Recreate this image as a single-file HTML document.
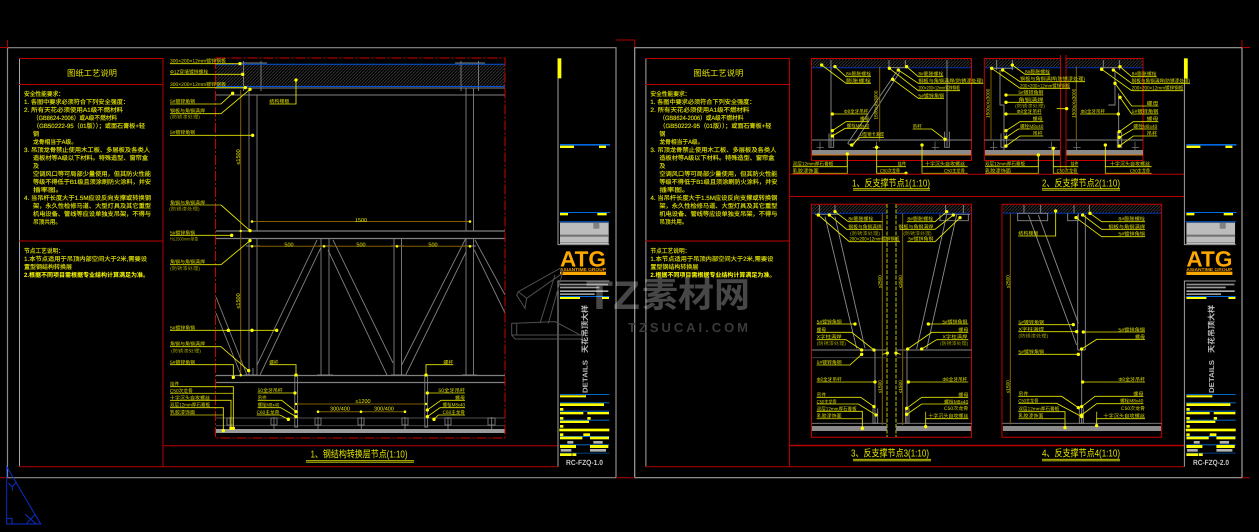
<!DOCTYPE html>
<html><head><meta charset="utf-8"><style>
html,body{margin:0;padding:0;background:#000;width:1259px;height:532px;overflow:hidden}
svg{display:block}
text{font-family:"Liberation Sans","Noto Sans CJK SC",sans-serif}
.t{fill:#d8d800;font-size:15px}
.d{fill:#a0a000;font-size:14px}
.n{fill:#e4e400;font-size:6.2px;stroke:#e4e400;stroke-width:.12}
.b{fill:#ffff00;font-size:6.2px;font-weight:bold}
.h{fill:#e0e000;font-size:8.3px}
.ti{fill:#e0e000;font-size:10px}
.dm{fill:#e8e800;font-size:14px}
.l{fill:none;stroke:#e8e800;stroke-width:2.6;marker-end:url(#m)}
.o{fill:none;stroke:#c4c400;stroke-width:2.6}
.g{fill:none;stroke:#808080;stroke-width:.9}
.gz{fill:none;stroke:#888;stroke-width:2.8}
.br{fill:none;stroke:#806000;stroke-width:1}
.brz{fill:none;stroke:#806000;stroke-width:3}
.red{fill:none;stroke:#b80000;stroke-width:1}
.dr{fill:none;stroke:#d00000;stroke-width:1;stroke-dasharray:10 2 2 2}
.rs{fill:none;stroke:#c80000;stroke-width:1}
.bl{stroke:#0050e0;stroke-width:1;fill:none}
.w{fill:none;stroke:#a8a8a8;stroke-width:1}
.wm{fill:none;stroke:#4e4e4e;stroke-width:3}
</style></head><body>
<svg width="1259" height="532" viewBox="0 0 1259 532" xmlns="http://www.w3.org/2000/svg" text-rendering="geometricPrecision">
<defs>
<marker id="m" markerUnits="userSpaceOnUse" markerWidth="14" markerHeight="14" refX="7" refY="7"><circle cx="7" cy="7" r="5" fill="#ffff00"/></marker>
<pattern id="hz" patternUnits="userSpaceOnUse" width="3.2" height="3.2"><path d="M0 3.2L3.2 0" stroke="#4a4a4a" stroke-width=".7"/></pattern>
<g id="sheet">
<path class="w" d="M19.5 58V467"/>
<path class="red" d="M19 58.5H163M19 84.5H163M163 58V467M19 241H163M163 445.7H558"/>
<path d="M19 466.7H558" stroke="#a00000" stroke-width="1.2"/>
<g transform="translate(500,40) scale(.33333)">
<path d="M174 55V614H328M174 1280V723H328" fill="none" stroke="#a0a0a0" stroke-width="3"/>
<rect x="173" y="55" width="11" height="60" fill="#ffff00"/>
<rect x="180" y="312" width="150" height="5" fill="#0068e0"/>
<rect x="180" y="317" width="42" height="7" fill="#ffff00"/><rect x="297" y="317" width="21" height="7" fill="#ffff00"/>
<rect x="180" y="516" width="150" height="3" fill="#0068e0"/>
<rect x="180" y="519" width="24" height="7" fill="#ffff00"/><rect x="292" y="519" width="28" height="7" fill="#ffff00"/>
<rect x="178" y="544" width="150" height="3" fill="#0068e0"/>
<rect x="180" y="548" width="146" height="60" fill="#bcbcbc"/>
<rect x="180" y="584" width="146" height="6" fill="#707070"/>
<rect x="280" y="548" width="18" height="18" fill="#808080"/>
<path d="M180 610H326" stroke="#dcdcdc" stroke-width="3"/>
<rect x="180" y="695" width="138" height="10" fill="#ffa800"/>
<rect x="180" y="731" width="144" height="5" fill="#909090"/><rect x="180" y="740" width="118" height="5" fill="#9c9c9c"/>
<rect x="180" y="751" width="145" height="5" fill="#a8a8a8"/><rect x="180" y="760" width="104" height="5" fill="#9c9c9c"/>
<rect x="180" y="768" width="148" height="3" fill="#0068e0"/>
<rect x="180" y="771" width="60" height="6" fill="#ffff00"/><rect x="306" y="771" width="21" height="6" fill="#ffff00"/>
</g>
<g transform="translate(550,380) scale(.33333)">
<g fill="#0068c8">
<rect x="30" y="42" width="148" height="3"/><rect x="30" y="67" width="148" height="3"/><rect x="30" y="92" width="148" height="3"/><rect x="30" y="119" width="148" height="3"/><rect x="30" y="168" width="148" height="3"/><rect x="30" y="193" width="148" height="3"/><rect x="30" y="218" width="148" height="3" fill="#004080"/>
</g>
<g fill="#ffff00">
<rect x="30" y="46" width="78" height="6"/><rect x="30" y="70" width="132" height="8"/><rect x="30" y="84" width="10" height="8"/><rect x="30" y="96" width="70" height="7"/><rect x="112" y="96" width="65" height="7"/><rect x="30" y="111" width="10" height="8"/><rect x="112" y="111" width="10" height="8"/><rect x="30" y="122" width="87" height="7"/><rect x="30" y="135" width="10" height="8"/><rect x="28" y="146" width="150" height="8"/><rect x="30" y="160" width="10" height="8"/><rect x="100" y="160" width="20" height="8"/><rect x="30" y="170" width="67" height="8"/><rect x="120" y="170" width="57" height="8"/><rect x="30" y="195" width="48" height="9"/><rect x="120" y="195" width="55" height="9"/><rect x="30" y="220" width="35" height="8"/><rect x="67" y="220" width="12" height="8"/>
</g>
<g fill="#b0b0b0"><rect x="52" y="183" width="18" height="8"/><rect x="130" y="183" width="28" height="8"/><rect x="32" y="207" width="32" height="8"/><rect x="120" y="207" width="48" height="8"/></g>
</g>
</g>
</defs>

<!-- outer frames -->
<path d="M7.5 47.7H616V477.7H7.5Z" fill="none" stroke="#8c8c8c" stroke-width="1.2"/>
<path d="M634.7 47.7H1242V477.7H634.7Z" fill="none" stroke="#a0a0a0" stroke-width="1.2"/>
<path d="M616 40H634.7V47M0 47.5H7.5V40M1242 47.5H1250M1242 40V47M616 477.7H634.7M0 477.7H7.5M1242 477.7H1250" fill="none" stroke="#b00000" stroke-width="1"/>

<use href="#sheet"/>
<use href="#sheet" x="626.4"/>

<!-- notes left -->
<text class="h" x="67" y="76" textLength="50" lengthAdjust="spacingAndGlyphs">图纸工艺说明</text>
<g>
<text class="n" x="24" y="96" textLength="40" lengthAdjust="spacingAndGlyphs">安全性能要求：</text>
<text class="n" x="24" y="104" textLength="105" lengthAdjust="spacingAndGlyphs">1.  各图中要求必须符合下列安全强度：</text>
<text class="n" x="24" y="112" textLength="99" lengthAdjust="spacingAndGlyphs">2.   所有天花必须使用A1级不燃材料</text>
<text class="n" x="33" y="120" textLength="84" lengthAdjust="spacingAndGlyphs">（GB8624-2006）或A级不燃材料</text>
<text class="n" x="33" y="128" textLength="112" lengthAdjust="spacingAndGlyphs">（GB50222-95（01版））；或面石膏板+轻</text>
<text class="n" x="33" y="136" textLength="6" lengthAdjust="spacingAndGlyphs">钢</text>
<text class="n" x="33" y="144" textLength="44" lengthAdjust="spacingAndGlyphs">龙骨相当于A级。</text>
<text class="n" x="24" y="152" textLength="126" lengthAdjust="spacingAndGlyphs">3. 吊顶龙骨禁止使用木工板、多层板及各类人</text>
<text class="n" x="33" y="160" textLength="115" lengthAdjust="spacingAndGlyphs">造板材等A级以下材料。特殊造型、窗帘盒</text>
<text class="n" x="33" y="168" textLength="6" lengthAdjust="spacingAndGlyphs">及</text>
<text class="n" x="33" y="176" textLength="118" lengthAdjust="spacingAndGlyphs">空调风口等可局部少量使用，但其防火性能</text>
<text class="n" x="33" y="184" textLength="118" lengthAdjust="spacingAndGlyphs">等级不得低于B1级且须涂刷防火涂料，并安</text>
<text class="n" x="33" y="192" textLength="30" lengthAdjust="spacingAndGlyphs">插率图。</text>
<text class="n" x="24" y="200" textLength="127" lengthAdjust="spacingAndGlyphs">4. 当吊杆长度大于1.5M应设反向支撑或转换钢</text>
<text class="n" x="33" y="208" textLength="118" lengthAdjust="spacingAndGlyphs">架，永久性检修马道、大型灯具及其它重型</text>
<text class="n" x="33" y="216" textLength="118" lengthAdjust="spacingAndGlyphs">机电设备、管线等应设单独支吊架，不得与</text>
<text class="n" x="33" y="224" textLength="28" lengthAdjust="spacingAndGlyphs">吊顶共用。</text>
<text class="n" x="24" y="253" textLength="40" lengthAdjust="spacingAndGlyphs">节点工艺说明：</text>
<text class="n" x="24" y="261" textLength="123" lengthAdjust="spacingAndGlyphs">1.本节点适用于吊顶内部空间大于2米,需要设</text>
<text class="n" x="24" y="269" textLength="48" lengthAdjust="spacingAndGlyphs">置型钢结构转换层</text>
<text class="b" x="24" y="277" textLength="125" lengthAdjust="spacingAndGlyphs">2.根据不同项目需根据专业结构计算满足为准。</text>
</g>
<!-- notes right -->
<text class="h" x="693.4" y="76" textLength="50" lengthAdjust="spacingAndGlyphs">图纸工艺说明</text>
<g>
<text class="n" x="650.4" y="96" textLength="40" lengthAdjust="spacingAndGlyphs">安全性能要求：</text>
<text class="n" x="650.4" y="104" textLength="105" lengthAdjust="spacingAndGlyphs">1.  各图中要求必须符合下列安全强度：</text>
<text class="n" x="650.4" y="112" textLength="99" lengthAdjust="spacingAndGlyphs">2.   所有天花必须使用A1级不燃材料</text>
<text class="n" x="659.4" y="120" textLength="84" lengthAdjust="spacingAndGlyphs">（GB8624-2006）或A级不燃材料</text>
<text class="n" x="659.4" y="128" textLength="112" lengthAdjust="spacingAndGlyphs">（GB50222-95（01版））；或面石膏板+轻</text>
<text class="n" x="659.4" y="136" textLength="6" lengthAdjust="spacingAndGlyphs">钢</text>
<text class="n" x="659.4" y="144" textLength="44" lengthAdjust="spacingAndGlyphs">龙骨相当于A级。</text>
<text class="n" x="650.4" y="152" textLength="126" lengthAdjust="spacingAndGlyphs">3. 吊顶龙骨禁止使用木工板、多层板及各类人</text>
<text class="n" x="659.4" y="160" textLength="115" lengthAdjust="spacingAndGlyphs">造板材等A级以下材料。特殊造型、窗帘盒</text>
<text class="n" x="659.4" y="168" textLength="6" lengthAdjust="spacingAndGlyphs">及</text>
<text class="n" x="659.4" y="176" textLength="118" lengthAdjust="spacingAndGlyphs">空调风口等可局部少量使用，但其防火性能</text>
<text class="n" x="659.4" y="184" textLength="118" lengthAdjust="spacingAndGlyphs">等级不得低于B1级且须涂刷防火涂料，并安</text>
<text class="n" x="659.4" y="192" textLength="30" lengthAdjust="spacingAndGlyphs">插率图。</text>
<text class="n" x="650.4" y="200" textLength="127" lengthAdjust="spacingAndGlyphs">4. 当吊杆长度大于1.5M应设反向支撑或转换钢</text>
<text class="n" x="659.4" y="208" textLength="118" lengthAdjust="spacingAndGlyphs">架，永久性检修马道、大型灯具及其它重型</text>
<text class="n" x="659.4" y="216" textLength="118" lengthAdjust="spacingAndGlyphs">机电设备、管线等应设单独支吊架，不得与</text>
<text class="n" x="659.4" y="224" textLength="28" lengthAdjust="spacingAndGlyphs">吊顶共用。</text>
<text class="n" x="650.4" y="253" textLength="40" lengthAdjust="spacingAndGlyphs">节点工艺说明：</text>
<text class="n" x="650.4" y="261" textLength="123" lengthAdjust="spacingAndGlyphs">1.本节点适用于吊顶内部空间大于2米,需要设</text>
<text class="n" x="650.4" y="269" textLength="48" lengthAdjust="spacingAndGlyphs">置型钢结构转换层</text>
<text class="b" x="650.4" y="277" textLength="125" lengthAdjust="spacingAndGlyphs">2.根据不同项目需根据专业结构计算满足为准。</text>
</g>

<!-- Title block text -->
<g font-weight="bold">
<text x="560" y="266.7" font-size="22" fill="#ffa800" textLength="46" lengthAdjust="spacingAndGlyphs">ATG</text>
<text x="560" y="270.9" font-size="4.2" fill="#ffa800" textLength="46" lengthAdjust="spacingAndGlyphs">ASIANTIME GROUP</text>
<text x="1186.4" y="266.7" font-size="22" fill="#ffa800" textLength="46" lengthAdjust="spacingAndGlyphs">ATG</text>
<text x="1186.4" y="270.9" font-size="4.2" fill="#ffa800" textLength="46" lengthAdjust="spacingAndGlyphs">ASIANTIME GROUP</text>
<text x="566" y="465" font-size="7.5" fill="#c8c8c8" textLength="37" lengthAdjust="spacingAndGlyphs">RC-FZQ-1.0</text>
<text x="1193" y="465" font-size="7.5" fill="#c8c8c8" textLength="36" lengthAdjust="spacingAndGlyphs">RC-FZQ-2.0</text>
<text transform="translate(587.5,393) rotate(-90)" font-size="7" fill="#bdbdbd" textLength="33" lengthAdjust="spacingAndGlyphs">DETAILS</text>
<text transform="translate(587.5,353) rotate(-90)" font-size="7.5" fill="#bdbdbd" textLength="48" lengthAdjust="spacingAndGlyphs">天花吊顶大样</text>
<text transform="translate(1213.9,393) rotate(-90)" font-size="7" fill="#bdbdbd" textLength="33" lengthAdjust="spacingAndGlyphs">DETAILS</text>
<text transform="translate(1213.9,353) rotate(-90)" font-size="7.5" fill="#bdbdbd" textLength="48" lengthAdjust="spacingAndGlyphs">天花吊顶大样</text>
</g>

<!-- ===== DRAWING 1 structure ===== -->
<rect x="216" y="64.5" width="289" height="22" fill="url(#hz)"/>
<g class="g">
<path d="M216 88H505M216 95H505" />
<path d="M240 63H267M240 88H267M455 63H485M455 88H485M243.5 61V91M261 61V91M461 61V91M478.5 61V91" />
<path d="M249 88V231M257 95V231M466 88V231M473.5 88V231M245 231H260M462 231H476" />
<path d="M216 231H505M216 238.5H505" stroke-width="1.2"/>
<path d="M249 238V375M257 238V375M321 238V375M329 238V375M394 238V375M401.5 238V375M466 238V375M473.5 238V375"/>
<path d="M318 246H332M391 246H404M463 246H476M246 246H260"/>
<path d="M216 297L247 375M216 313L241 375M256.7 365.7L317 240M260 375L320.7 248M333 240L393 363M328 250L387 375M401.7 365L466 238M405.7 375L466 252M475 240L505 295M474.3 250L505 313"/>
<path d="M253 368V375M317 375H333M391 375H405M462 375H477M244 375H258"/>
<path d="M216 375.5H505M216 382.5H505" stroke-width="1.2"/>
<path d="M216 418H505M216 425.7H505" stroke="#505050"/>
<path d="M294.8 375V427H297.6V375M424.8 375V427H427.6V375" fill="none"/>
</g>
<rect x="216" y="429" width="289" height="4" fill="#9a9a9a"/>
<path class="bl" d="M216 64.3H505M216 86.5H505" stroke-width="1.2"/>
<path class="dr" d="M215.5 58H505V438H215.5Z"/>
<g fill="none" stroke="#8a8a8a" stroke-width=".8">
<path d="M274 429V417M271 418H277V425H271ZM318 429V417M315 418H321V425H315ZM361.3 429V417M358 418H364V425H358ZM405 429V417M402 418H408V425H402ZM448 429V417M445 418H451V425H445ZM491.7 429V417M488 418H495V425H488ZM230 429V417M227 418H233V425H227Z"/>
</g>
<!-- dims -->
<g>
<path class="br" d="M240.7 90V377M252 221.5H470M252 246.3H470M296 404H426M318 411.7H405" stroke-width="1"/>
</g>
<g fill="#ffff00"><circle cx="252" cy="221.5" r="1.3"/><circle cx="470" cy="221.5" r="1.3"/><circle cx="252" cy="246.3" r="1.3"/><circle cx="324" cy="246.3" r="1.3"/><circle cx="397" cy="246.3" r="1.3"/><circle cx="470" cy="246.3" r="1.3"/><circle cx="240.7" cy="231" r="1.2"/><circle cx="240.7" cy="375" r="1.2"/><circle cx="296" cy="404" r="1.2"/><circle cx="426" cy="404" r="1.2"/><circle cx="318" cy="411.7" r="1.3"/><circle cx="361" cy="411.7" r="1.3"/><circle cx="405" cy="411.7" r="1.3"/></g>
<g fill="#e4e400" style="font-size:5.5px">
<text x="361" y="222" text-anchor="middle">1500</text><text x="289" y="246.5" text-anchor="middle">500</text><text x="361" y="246.5" text-anchor="middle">500</text><text x="433" y="246.5" text-anchor="middle">500</text>
<text x="363" y="403" text-anchor="middle">≤1200</text><text x="340" y="410.5" text-anchor="middle">300/400</text><text x="384" y="410.5" text-anchor="middle">300/400</text>
<text transform="translate(240,157) rotate(-90)" text-anchor="middle">≤1500</text>
<text transform="translate(240,301) rotate(-90)" text-anchor="middle">≤1500</text>
</g>

<g transform="translate(160,50) scale(.33333)">
<path class="l" d="M30 41H240"/><path class="l" d="M30 73H248"/><path class="l" d="M30 113H256"/>
<path class="l" d="M30 162H183L218 130"/><path class="l" d="M30 191H183L270 118"/><path class="l" d="M30 256H278"/>
<path class="l" d="M328 162H408V90"/>
<path class="o" d="M30 465H183"/><path class="l" d="M183 465L270 542"/><path class="l" d="M30 556H215"/>
<text class="t" x="30" y="38" textLength="168" lengthAdjust="spacingAndGlyphs">300×200×12mm镀锌钢板</text>
<text class="t" x="30" y="70" textLength="115" lengthAdjust="spacingAndGlyphs">Φ12穿墙镀锌螺栓</text>
<text class="t" x="30" y="108" textLength="168" lengthAdjust="spacingAndGlyphs">300×200×12mm镀锌钢板</text>
<text class="t" x="30" y="159" textLength="75" lengthAdjust="spacingAndGlyphs">5#镀锌角钢</text>
<text class="t" x="30" y="188" textLength="105" lengthAdjust="spacingAndGlyphs">钢板与角钢满焊</text>
<text class="d" x="30" y="206" textLength="90" lengthAdjust="spacingAndGlyphs">(防锈漆处理)</text>
<text class="t" x="30" y="252" textLength="75" lengthAdjust="spacingAndGlyphs">5#镀锌角钢</text>
<text class="t" x="328" y="159" textLength="60" lengthAdjust="spacingAndGlyphs">结构楼板</text>
<text class="t" x="30" y="463" textLength="105" lengthAdjust="spacingAndGlyphs">角钢与角钢满焊</text>
<text class="d" x="27" y="482" textLength="92" lengthAdjust="spacingAndGlyphs">(防锈漆处理)</text>
<text class="t" x="30" y="553" textLength="75" lengthAdjust="spacingAndGlyphs">5#镀锌角钢</text>
<text class="d" x="30" y="571" textLength="85" lengthAdjust="spacingAndGlyphs">H≤1500mm渐变</text>
</g>
<g transform="translate(160,240) scale(.33333)">
<path class="l" d="M30 74H183L270 2"/>
<path class="l" d="M30 271H350"/><path class="l" d="M204 271H205"/><path class="l" d="M275 271H276"/>
<path class="l" d="M30 320H183L266 392"/><path class="l" d="M30 374H220V412"/>
<path class="l" d="M30 440H220V565"/><path class="o" d="M30 460H220"/><path class="l" d="M30 481H213V565"/><path class="l" d="M30 503H190V572"/><path class="o" d="M30 525H190"/>
<path class="l" d="M328 374H408V405"/><path class="l" d="M880 374H798V405"/>
<path class="l" d="M293 459H405"/><path class="l" d="M293 481H365L408 515"/><path class="l" d="M293 503H362L408 530"/><path class="l" d="M290 525H360L385 538"/>
<path class="l" d="M915 459H802"/><path class="l" d="M915 481H843L802 510"/><path class="l" d="M915 503H840L802 530"/><path class="l" d="M915 525H835L822 538"/>
<text class="t" x="30" y="71" textLength="105" lengthAdjust="spacingAndGlyphs">角钢与角钢满焊</text>
<text class="d" x="30" y="90" textLength="90" lengthAdjust="spacingAndGlyphs">(防锈漆处理)</text>
<text class="t" x="30" y="268" textLength="75" lengthAdjust="spacingAndGlyphs">5#镀锌角钢</text>
<text class="t" x="30" y="317" textLength="105" lengthAdjust="spacingAndGlyphs">角钢与角钢满焊</text>
<text class="d" x="33" y="338" textLength="90" lengthAdjust="spacingAndGlyphs">(防锈漆处理)</text>
<text class="t" x="30" y="372" textLength="75" lengthAdjust="spacingAndGlyphs">5#镀锌角钢</text>
<text class="t" x="30" y="437" textLength="27" lengthAdjust="spacingAndGlyphs">挂件</text>
<text class="t" x="30" y="457" textLength="68" lengthAdjust="spacingAndGlyphs">C50次龙骨</text>
<text class="t" x="30" y="478" textLength="120" lengthAdjust="spacingAndGlyphs">十字沉头自攻螺丝</text>
<text class="t" x="30" y="500" textLength="120" lengthAdjust="spacingAndGlyphs">双层12mm厚石膏板</text>
<text class="t" x="30" y="522" textLength="75" lengthAdjust="spacingAndGlyphs">乳胶漆饰面</text>
<text class="t" x="328" y="372" textLength="27" lengthAdjust="spacingAndGlyphs">螺杆</text>
<text class="t" x="850" y="372" textLength="30" lengthAdjust="spacingAndGlyphs">螺杆</text>
<text class="t" x="293" y="456" textLength="75" lengthAdjust="spacingAndGlyphs">50全牙吊杆</text>
<text class="t" x="293" y="478" textLength="27" lengthAdjust="spacingAndGlyphs">吊件</text>
<text class="t" x="293" y="500" textLength="65" lengthAdjust="spacingAndGlyphs">螺栓M8x40</text>
<text class="t" x="290" y="522" textLength="68" lengthAdjust="spacingAndGlyphs">C60主龙骨</text>
<text class="t" x="835" y="456" textLength="80" lengthAdjust="spacingAndGlyphs">50全牙吊杆</text>
<text class="t" x="885" y="478" textLength="30" lengthAdjust="spacingAndGlyphs">螺母</text>
<text class="t" x="848" y="500" textLength="67" lengthAdjust="spacingAndGlyphs">螺栓M8x40</text>
<text class="t" x="848" y="522" textLength="67" lengthAdjust="spacingAndGlyphs">C60主龙骨</text>
</g>
<text class="ti" x="310.5" y="457.5" textLength="97" lengthAdjust="spacingAndGlyphs">1、钢结构转换层节点(1:10)</text>
<path d="M306 460.7H414M306 462.2H414" stroke="#d8d800" stroke-width=".8"/>

<!-- ===== NODES 1,2 ===== -->
<path class="rs" d="M811.5 58.5H971.5V160.5H811.5ZM984.3 58.5H1143V160.5H984.3Z"/>
<rect x="812" y="59" width="159" height="8.5" fill="url(#hz)"/><rect x="985" y="59" width="158" height="8.5" fill="url(#hz)"/>
<path d="M812 67.7H971M985 67.7H1143" stroke="#0030b0" stroke-width="1"/>
<rect x="812" y="150" width="159" height="4.5" fill="#8a8a8a"/><rect x="985" y="150" width="158" height="4.5" fill="#8a8a8a"/>
<path d="M812 155H971M985 155H1143" stroke="#e07000" stroke-width="1"/>
<rect x="1061" y="55" width="4.5" height="108" fill="#000"/>
<path d="M1060.5 55V169M1066 55V169" stroke="#c00000" stroke-width="1"/>
<g transform="translate(800,50) scale(.33333)">
<g class="gz">
<path d="M36 270H515M553 270H780M800 270H1029"/>
<path d="M93 30V290M441 30V290M87 250V292H101V250M434 245V292H448V245"/>
<path d="M267 30V55M316 30V55M265 53H320"/>
<path d="M290 65L143 280M300 65L160 285M143 280L160 290"/>
<path d="M590 30V60M637 30V60M572 55H640M600 60V165H612V300M612 165V290M603 250V292H620V250"/>
<path d="M910 30V55M958 30V60M900 53H960M945 60V165H925M956 130V290M952 245V292H965V245"/>
<path d="M60 275V300M405 275V300M230 275V300M405 275V300M580 275V300M755 275V300M830 275V300M1005 275V300" stroke-width="2"/>
<path d="M50 292H72M218 292H240M395 292H418M570 292H592M745 292H770M820 292H842M995 292H1018" stroke-width="2"/>
</g>
<path class="brz" d="M239 50V275M573 50V270M829 50V270"/>
<g>
<text class="dm" transform="translate(232,165) rotate(-90)" text-anchor="middle">1500≤X≤3000</text>
<text class="dm" transform="translate(568,160) rotate(-90)" text-anchor="middle">1500≤X≤3000</text>
<text class="dm" transform="translate(826,160) rotate(-90)" text-anchor="middle">1500≤X≤3000</text>
</g>
<g>
<path class="l" d="M213 80H138L105 50"/><path class="l" d="M213 100H138L65 45"/>
<path class="l" d="M430 80H355L320 50"/><path class="l" d="M550 100H355L295 60"/><path class="l" d="M480 122H355L268 55"/><path class="l" d="M432 145H355L278 88"/>
<path class="l" d="M205 192H97"/><path class="l" d="M207 215H138L97 242"/><path class="l" d="M208 235H135L97 258"/><path class="l" d="M252 262H180L155 285"/>
<path class="l" d="M338 237H395L435 268"/>
<path class="l" d="M-22 350H142V312"/><path class="o" d="M-22 370H142V315"/>
<path class="l" d="M230 350V292"/><path class="l" d="M318 350H230V370H318"/>
<path class="l" d="M503 350H366V285"/><path class="o" d="M503 370H366V350"/>
<path class="l" d="M750 73H675L637 45"/><path class="l" d="M855 95H660L608 60"/><path class="l" d="M810 115H660L575 55"/>
<path class="l" d="M730 135H618"/><path class="l" d="M730 157H618"/><path class="l" d="M725 192H618"/>
<path class="l" d="M730 215H660L618 242"/><path class="l" d="M730 237H655L618 262"/><path class="l" d="M730 258H660L618 288"/>
<path class="l" d="M1070 80H995L960 50"/><path class="l" d="M1170 100H995L940 60"/><path class="l" d="M1150 122H995L905 58"/>
<path class="l" d="M1075 168H995L945 100"/><path class="l" d="M1075 192H995L960 142"/><path class="l" d="M840 192H955"/>
<path class="l" d="M1075 215H1000L958 245"/><path class="l" d="M1072 237H1000L958 262"/><path class="l" d="M1072 258H1000L958 288"/>
<path class="l" d="M555 350H715V315"/><path class="o" d="M555 370H715V315"/>
<path class="l" d="M835 350H760V295"/><path class="o" d="M835 370H760V350"/>
<path class="l" d="M1055 350H916V285"/><path class="o" d="M1055 370H916V350"/>
<path class="l" d="M770 176H800"/>
</g>
<text class="t" x="138" y="77" textLength="75" lengthAdjust="spacingAndGlyphs">8#膨胀螺栓</text>
<text class="t" x="138" y="97" textLength="75" lengthAdjust="spacingAndGlyphs">膨胀螺栓</text>
<text class="t" x="355" y="77" textLength="75" lengthAdjust="spacingAndGlyphs">8#膨胀螺栓</text>
<text class="t" x="355" y="97" textLength="195" lengthAdjust="spacingAndGlyphs">钢板与角钢满焊(防锈漆处理)</text>
<text class="t" x="355" y="119" textLength="125" lengthAdjust="spacingAndGlyphs">200×200×12mm镀锌钢板</text>
<text class="t" x="355" y="142" textLength="77" lengthAdjust="spacingAndGlyphs">5#镀锌角钢</text>
<text class="t" x="132" y="189" textLength="73" lengthAdjust="spacingAndGlyphs">Φ8全牙吊杆</text>
<text class="t" x="180" y="212" textLength="27" lengthAdjust="spacingAndGlyphs">螺母</text>
<text class="t" x="140" y="233" textLength="68" lengthAdjust="spacingAndGlyphs">螺栓M8x40</text>
<text class="t" x="180" y="258" textLength="72" lengthAdjust="spacingAndGlyphs">U型钢卡满焊</text>
<text class="t" x="338" y="234" textLength="27" lengthAdjust="spacingAndGlyphs">吊杆</text>
<text class="t" x="-22" y="346" textLength="122" lengthAdjust="spacingAndGlyphs">双层12mm厚石膏板</text>
<text class="t" x="-22" y="367" textLength="78" lengthAdjust="spacingAndGlyphs">乳胶漆饰面</text>
<text class="t" x="293" y="346" textLength="25" lengthAdjust="spacingAndGlyphs">挂件</text>
<text class="t" x="240" y="367" textLength="60" lengthAdjust="spacingAndGlyphs">C50次龙骨</text>
<text class="t" x="375" y="346" textLength="120" lengthAdjust="spacingAndGlyphs">十字沉头自攻螺丝</text>
<text class="t" x="432" y="367" textLength="63" lengthAdjust="spacingAndGlyphs">C50主龙骨</text>
<text class="t" x="675" y="70" textLength="75" lengthAdjust="spacingAndGlyphs">8#膨胀螺栓</text>
<text class="t" x="660" y="92" textLength="195" lengthAdjust="spacingAndGlyphs">钢板与角钢满焊(防锈漆处理)</text>
<text class="t" x="660" y="112" textLength="150" lengthAdjust="spacingAndGlyphs">200×200×12mm镀锌钢板</text>
<text class="t" x="655" y="132" textLength="75" lengthAdjust="spacingAndGlyphs">5#镀锌角钢</text>
<text class="t" x="655" y="154" textLength="75" lengthAdjust="spacingAndGlyphs">角钢满焊</text>
<text class="d" x="645" y="172" textLength="90" lengthAdjust="spacingAndGlyphs">(防锈漆处理)</text>
<text class="t" x="650" y="189" textLength="75" lengthAdjust="spacingAndGlyphs">Φ8全牙吊杆</text>
<text class="t" x="698" y="212" textLength="30" lengthAdjust="spacingAndGlyphs">螺母</text>
<text class="t" x="660" y="234" textLength="70" lengthAdjust="spacingAndGlyphs">螺栓M8x40</text>
<text class="t" x="698" y="255" textLength="30" lengthAdjust="spacingAndGlyphs">吊杆</text>
<text class="t" x="995" y="77" textLength="75" lengthAdjust="spacingAndGlyphs">8#膨胀螺栓</text>
<text class="t" x="995" y="97" textLength="175" lengthAdjust="spacingAndGlyphs">钢板与角钢满焊(防锈漆处理)</text>
<text class="t" x="995" y="119" textLength="155" lengthAdjust="spacingAndGlyphs">200×200×12mm镀锌钢板</text>
<text class="t" x="1040" y="165" textLength="35" lengthAdjust="spacingAndGlyphs">螺母</text>
<text class="t" x="995" y="189" textLength="80" lengthAdjust="spacingAndGlyphs">5#镀锌角钢</text>
<text class="t" x="842" y="189" textLength="73" lengthAdjust="spacingAndGlyphs">Φ8全牙吊杆</text>
<text class="t" x="1040" y="212" textLength="35" lengthAdjust="spacingAndGlyphs">螺母</text>
<text class="t" x="1000" y="234" textLength="72" lengthAdjust="spacingAndGlyphs">螺栓M8x40</text>
<text class="t" x="1040" y="255" textLength="32" lengthAdjust="spacingAndGlyphs">吊杆</text>
<text class="t" x="555" y="346" textLength="120" lengthAdjust="spacingAndGlyphs">双层12mm厚石膏板</text>
<text class="t" x="555" y="367" textLength="78" lengthAdjust="spacingAndGlyphs">乳胶漆饰面</text>
<text class="t" x="812" y="346" textLength="23" lengthAdjust="spacingAndGlyphs">挂件</text>
<text class="t" x="770" y="367" textLength="62" lengthAdjust="spacingAndGlyphs">C50次龙骨</text>
<text class="t" x="930" y="346" textLength="120" lengthAdjust="spacingAndGlyphs">十字沉头自攻螺丝</text>
<text class="t" x="990" y="367" textLength="60" lengthAdjust="spacingAndGlyphs">C50主龙骨</text>
</g>
<path class="red" d="M790 174.3H1184M790 196.5H1184M790 445.3H1184"/>
<text class="ti" x="852" y="186.5" textLength="78" lengthAdjust="spacingAndGlyphs">1、反支撑节点1(1:10)</text>
<text class="ti" x="1042" y="186.5" textLength="78" lengthAdjust="spacingAndGlyphs">2、反支撑节点2(1:10)</text>
<path d="M853 188.7H930M853 190.2H930M1042 188.7H1120M1042 190.2H1120" stroke="#d8d800" stroke-width=".8"/>
<text class="ti" x="851" y="456.5" textLength="78" lengthAdjust="spacingAndGlyphs">3、反支撑节点3(1:10)</text>
<text class="ti" x="1042" y="456.5" textLength="78" lengthAdjust="spacingAndGlyphs">4、反支撑节点4(1:10)</text>
<path d="M853 459.3H931M853 460.8H931M1042 459.3H1120M1042 460.8H1120" stroke="#d8d800" stroke-width=".8"/>

<!-- ===== NODES 3,4 ===== -->
<path class="rs" d="M811.5 204.3H971.5V437.3H811.5ZM1002 204.3H1161.7V437.3H1002Z"/>
<rect x="812" y="205" width="159" height="8" fill="url(#hz)"/><rect x="1003" y="205" width="158" height="8" fill="url(#hz)"/>
<path d="M812 213.3H971M1003 213.3H1161" stroke="#0030b0" stroke-width="1"/>
<rect x="887" y="204" width="9" height="233" fill="#000"/>
<path d="M887 204V437M896 204V437" stroke="#a0a000" stroke-width="1.2" stroke-dasharray="4 1.5"/>
<rect x="812" y="426" width="75" height="5" fill="#8a8a8a"/><rect x="896" y="426" width="75" height="5" fill="#8a8a8a"/><rect x="1003" y="426" width="158" height="5" fill="#8a8a8a"/>
<g transform="translate(800,195) scale(.33333)">
<g class="gz">
<path d="M75 65L170 460M105 65L195 460M440 60L350 462M470 60L380 462"/>
<path d="M36 465H260M290 465H515" /><path d="M36 488H260M290 488H515" stroke="#484848"/>
<path d="M36 685H260M290 685H515M607 685H1085"/>
<path d="M225 465V685M321 465V685M219 640V685H233V640M317 640V685H327V640"/>
<path d="M45 58H115M58 30V55M105 30V55M430 58H510M437 30V55M490 30V55M420 58V77H505V58"/>
<path d="M653 55V77H743V55ZM803 55V77H835V55M672 30V55M722 30V55M822 30V55M868 30V55"/>
<path d="M685 60L830 450M715 60L835 385"/>
<path d="M833 60V465M856 60V465M833 465H856M845 465V685M838 640V685H850V640"/>
</g>
<path class="brz" d="M247 55V690M308 55V690M631 55V688"/>
<g>
<text class="dm" transform="translate(245,260) rotate(-90)" text-anchor="middle">≤2500</text>
<text class="dm" transform="translate(245,575) rotate(-90)" text-anchor="middle">≤1500</text>
<text class="dm" transform="translate(306,260) rotate(-90)" text-anchor="middle">≤2500</text>
<text class="dm" transform="translate(306,575) rotate(-90)" text-anchor="middle">≤1500</text>
<text class="dm" transform="translate(629,260) rotate(-90)" text-anchor="middle">≤2500</text>
<text class="dm" transform="translate(629,575) rotate(-90)" text-anchor="middle">≤1500</text>
</g>
<path class="l" d="M248 80H145L105 50"/><path class="l" d="M248 103H140L88 60"/><path class="l" d="M300 140H148L55 60"/>
<path class="l" d="M320 80H405L440 50"/><path class="l" d="M298 103H405L460 60"/><path class="l" d="M322 140H405L480 68"/>
<path class="l" d="M50 387H165"/><path class="l" d="M50 412H155L222 465"/><path class="l" d="M50 434H138L185 465"/><path class="l" d="M50 510H150L185 478"/>
<path class="l" d="M50 561H225"/><path class="l" d="M50 607H182L222 635"/><path class="l" d="M50 627H175L228 660"/>
<path class="l" d="M50 649H187V700"/><path class="o" d="M50 671H187"/>
<path class="l" d="M505 387H385"/><path class="l" d="M505 412H395L323 462"/><path class="l" d="M505 434H410L365 462"/><path class="l" d="M505 561H325"/>
<path class="l" d="M505 607H365L320 640"/><path class="l" d="M505 627H365L320 658"/>
<path class="l" d="M505 671H377V695"/><path class="o" d="M377 650V671"/>
<path class="l" d="M655 123H767V48"/>
<path class="l" d="M1035 80H905L870 55"/><path class="l" d="M1035 103H905L848 60"/><path class="l" d="M1035 125H905L828 68"/>
<path class="l" d="M655 389H820"/><path class="l" d="M655 410H830"/><path class="l" d="M655 478H835"/>
<path class="l" d="M1035 411H850"/><path class="l" d="M1035 433H890L845 462"/><path class="l" d="M1035 561H848"/>
<path class="l" d="M655 604H785L835 638"/><path class="l" d="M655 625H770L845 665"/>
<path class="l" d="M655 650H795V698"/><path class="o" d="M655 671H795"/>
<path class="l" d="M1030 604H885L845 635"/><path class="l" d="M1030 626H890L845 660"/>
<path class="l" d="M1035 671H890V692"/><path class="o" d="M890 650V671"/>
<path class="l" d="M248 478L262 474"/><path class="l" d="M302 478L288 474"/>
<text class="t" x="145" y="77" textLength="75" lengthAdjust="spacingAndGlyphs">8#膨胀螺栓</text>
<text class="t" x="145" y="100" textLength="100" lengthAdjust="spacingAndGlyphs">钢板与角钢满焊</text>
<text class="d" x="150" y="120" textLength="90" lengthAdjust="spacingAndGlyphs">(防锈漆处理)</text>
<text class="t" x="148" y="137" textLength="150" lengthAdjust="spacingAndGlyphs">200×200×12mm镀锌钢板</text>
<text class="t" x="322" y="77" textLength="78" lengthAdjust="spacingAndGlyphs">8#膨胀螺栓</text>
<text class="t" x="295" y="100" textLength="105" lengthAdjust="spacingAndGlyphs">钢板与角钢满焊</text>
<text class="d" x="310" y="120" textLength="85" lengthAdjust="spacingAndGlyphs">(防锈漆处理)</text>
<text class="t" x="325" y="137" textLength="75" lengthAdjust="spacingAndGlyphs">5#镀锌角钢</text>
<text class="t" x="50" y="385" textLength="75" lengthAdjust="spacingAndGlyphs">5#镀锌角钢</text>
<text class="t" x="50" y="410" textLength="28" lengthAdjust="spacingAndGlyphs">螺母</text>
<text class="t" x="50" y="431" textLength="75" lengthAdjust="spacingAndGlyphs">X字柱满焊</text>
<text class="d" x="50" y="450" textLength="88" lengthAdjust="spacingAndGlyphs">(防锈漆处理)</text>
<text class="t" x="50" y="507" textLength="75" lengthAdjust="spacingAndGlyphs">5#镀锌角钢</text>
<text class="t" x="50" y="558" textLength="75" lengthAdjust="spacingAndGlyphs">Φ8全牙吊杆</text>
<text class="t" x="50" y="605" textLength="28" lengthAdjust="spacingAndGlyphs">吊件</text>
<text class="t" x="50" y="625" textLength="60" lengthAdjust="spacingAndGlyphs">C50主龙骨</text>
<text class="t" x="50" y="646" textLength="120" lengthAdjust="spacingAndGlyphs">双层12mm厚石膏板</text>
<text class="t" x="50" y="667" textLength="75" lengthAdjust="spacingAndGlyphs">乳胶漆饰面</text>
<text class="t" x="427" y="385" textLength="75" lengthAdjust="spacingAndGlyphs">5#镀锌角钢</text>
<text class="t" x="475" y="410" textLength="30" lengthAdjust="spacingAndGlyphs">螺母</text>
<text class="t" x="427" y="431" textLength="75" lengthAdjust="spacingAndGlyphs">X字柱满焊</text>
<text class="d" x="420" y="450" textLength="85" lengthAdjust="spacingAndGlyphs">(防锈漆处理)</text>
<text class="t" x="427" y="558" textLength="75" lengthAdjust="spacingAndGlyphs">Φ8全牙吊杆</text>
<text class="t" x="475" y="605" textLength="30" lengthAdjust="spacingAndGlyphs">螺母</text>
<text class="t" x="432" y="625" textLength="73" lengthAdjust="spacingAndGlyphs">螺栓M8x40</text>
<text class="t" x="432" y="645" textLength="73" lengthAdjust="spacingAndGlyphs">C50次龙骨</text>
<text class="t" x="385" y="667" textLength="120" lengthAdjust="spacingAndGlyphs">十字沉头自攻螺丝</text>
<text class="t" x="655" y="120" textLength="60" lengthAdjust="spacingAndGlyphs">结构楼板</text>
<text class="t" x="955" y="77" textLength="80" lengthAdjust="spacingAndGlyphs">8#膨胀螺栓</text>
<text class="t" x="925" y="100" textLength="110" lengthAdjust="spacingAndGlyphs">钢板与角钢满焊</text>
<text class="t" x="955" y="122" textLength="80" lengthAdjust="spacingAndGlyphs">5#镀锌角钢</text>
<text class="t" x="655" y="387" textLength="77" lengthAdjust="spacingAndGlyphs">5#镀锌角钢</text>
<text class="t" x="655" y="408" textLength="77" lengthAdjust="spacingAndGlyphs">X字柱满焊</text>
<text class="d" x="655" y="427" textLength="90" lengthAdjust="spacingAndGlyphs">(防锈漆处理)</text>
<text class="t" x="655" y="475" textLength="77" lengthAdjust="spacingAndGlyphs">5#镀锌角钢</text>
<text class="t" x="955" y="410" textLength="80" lengthAdjust="spacingAndGlyphs">5#镀锌角钢</text>
<text class="t" x="1005" y="430" textLength="30" lengthAdjust="spacingAndGlyphs">螺母</text>
<text class="t" x="955" y="558" textLength="80" lengthAdjust="spacingAndGlyphs">Φ8全牙吊杆</text>
<text class="t" x="655" y="601" textLength="30" lengthAdjust="spacingAndGlyphs">吊件</text>
<text class="t" x="655" y="622" textLength="60" lengthAdjust="spacingAndGlyphs">C50主龙骨</text>
<text class="t" x="655" y="647" textLength="123" lengthAdjust="spacingAndGlyphs">双层12mm厚石膏板</text>
<text class="t" x="655" y="667" textLength="75" lengthAdjust="spacingAndGlyphs">乳胶漆饰面</text>
<text class="t" x="1000" y="601" textLength="30" lengthAdjust="spacingAndGlyphs">螺母</text>
<text class="t" x="960" y="623" textLength="70" lengthAdjust="spacingAndGlyphs">螺栓M8x40</text>
<text class="t" x="963" y="645" textLength="72" lengthAdjust="spacingAndGlyphs">C50次龙骨</text>
<text class="t" x="910" y="667" textLength="125" lengthAdjust="spacingAndGlyphs">十字沉头自攻螺丝</text>
</g>

<!-- blue triangle -->
<g transform="translate(0,440) scale(.33333)" fill="none" stroke="#0a30c8" stroke-width="3">
<path d="M20 80V252H122ZM20 235H36V252M75 222L108 252M104 225L80 250M25 130L37 140L50 125M37 140V152"/>
</g>

<!-- watermark -->
<g transform="translate(505,260) scale(.33333)">
<path class="wm" d="M40 95L165 25L172 40L65 115L60 145L35 105ZM65 115L40 95"/>
<path class="wm" d="M150 45L105 190M175 30L130 190"/>
<path class="wm" d="M20 190L150 185L232 228V237L30 237L20 225ZM20 225H232M35 190V225"/>
</g>
<g opacity=".28" fill="#ffffff" font-weight="bold">
<text x="586" y="309" font-size="40" textLength="54" lengthAdjust="spacingAndGlyphs" font-family="Liberation Sans">TZ</text>
<text x="642" y="307" font-size="35" textLength="108" lengthAdjust="spacingAndGlyphs" style="font-family:'Noto Sans CJK SC',sans-serif">素材网</text>
</g>
<text x="628" y="332" font-size="13" fill="#3a3a3a" font-weight="bold" textLength="120" lengthAdjust="spacing">TZSUCAI.COM</text>
</svg>
</body></html>
